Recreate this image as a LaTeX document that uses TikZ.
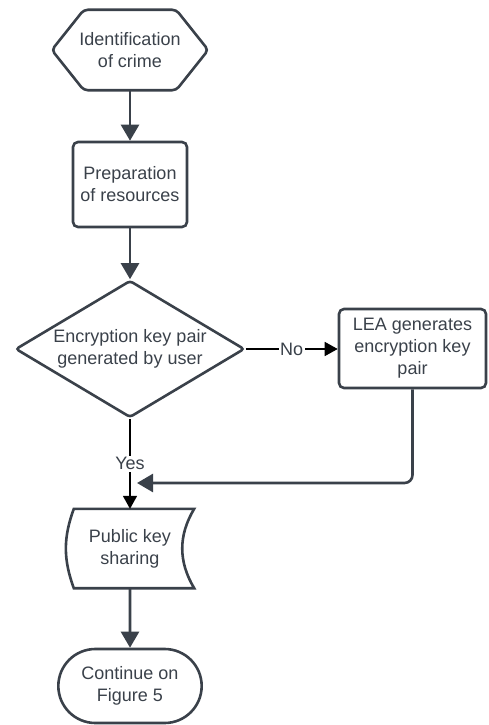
\documentclass[tikz,border=0pt]{standalone}
\usepackage{fontspec}
\setmainfont{Liberation Sans}
\usetikzlibrary{shapes.geometric,shapes.misc,arrows.meta}
\definecolor{slate}{HTML}{3A414A}

\begin{document}
\begin{tikzpicture}[
    x=1pt,y=1pt,
    font=\fontsize{18}{22}\selectfont,
    every node/.style={text=slate,align=center},
    outline/.style={draw=slate,line width=2.6pt},
    box/.style={outline,rounded corners=5pt,minimum width=114pt,minimum height=85pt},
    decision/.style={outline,diamond,aspect=1.67,rounded corners=3pt,inner sep=0pt,minimum width=229pt,minimum height=137pt},
    flowarrow/.style={slate,line width=2.6pt,-{Triangle[width=18pt,length=16pt]}},
    branch/.style={black,line width=1.6pt,-{Triangle[width=14pt,length=13pt]}},
    answer/.style={fill=white,inner sep=1.5pt}
  ]

    \useasboundingbox (0,0) rectangle (488,-725);

    % start
    \node[minimum width=156pt,minimum height=80pt,inner sep=0pt] (crime) at (130,-50) {Identification\\of crime};
    \draw[outline,rounded corners=4pt] (crime.west) -- ([xshift=32pt]crime.north west)
      -- ([xshift=-32pt]crime.north east) -- (crime.east)
      -- ([xshift=-32pt]crime.south east) -- ([xshift=32pt]crime.south west) -- cycle;

    \node[box] (prep) at (130,-184.5) {Preparation\\of resources};
    \node[decision] (keypair) at (130,-349) {Encryption key pair\\generated by user};
    \node[box,minimum width=147pt,minimum height=79pt] (lea) at (412.5,-348.5) {LEA generates\\encryption key\\pair};

    % stored data
    \node[minimum width=128pt,minimum height=79pt,inner sep=0pt] (share) at (130,-548.5) {Public key\\sharing};
    \draw[outline] ([xshift=8pt]share.north west) -- (share.north east)
      to[bend right=31] (share.south east) -- ([xshift=8pt]share.south west)
      to[bend left=20] cycle;

    \node[outline,rounded rectangle,minimum width=150pt,minimum height=74pt] (cont) at (130,-686) {Continue on\\Figure 5};

    \coordinate (join) at (137,-483);

    \draw[flowarrow] (crime) -- (prep);
    \draw[flowarrow] (prep) -- (keypair);
    \draw[branch] (keypair.east) -- node[answer] {No} (keypair.east -| lea.west);
    \draw[branch] (keypair.south) -- node[answer] {Yes} (share.north);
    \draw[flowarrow,rounded corners=8pt] (lea.south) |- (join);
    \draw[flowarrow] (share.south) -- (cont);

\end{tikzpicture}
\end{document}
